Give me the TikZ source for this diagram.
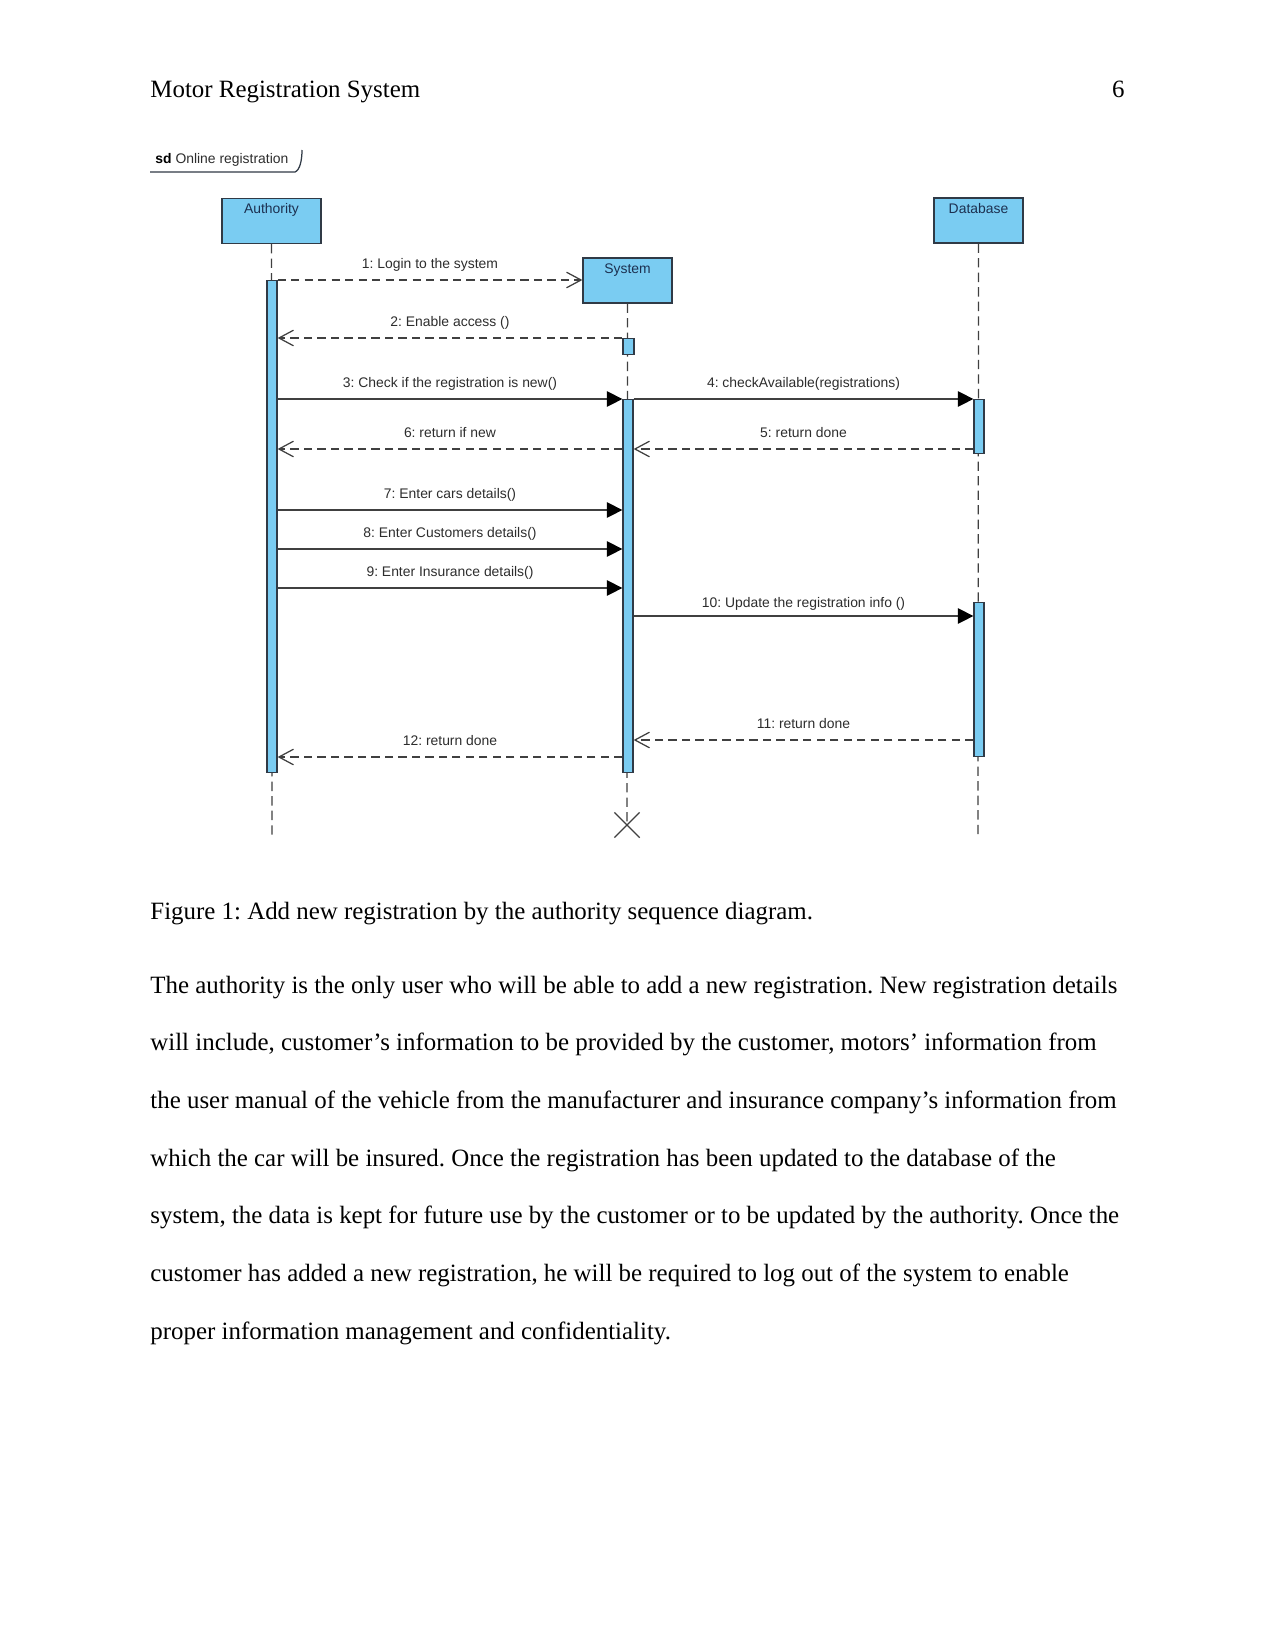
\documentclass[tikz,border=0pt]{standalone}
\usepackage{fontspec}
\setmainfont{Liberation Serif}
\newfontfamily\vpsans{Liberation Sans}
\usetikzlibrary{positioning,arrows.meta,shapes.misc}
\frenchspacing
\newlength\pxu
\setlength\pxu{0.48181pt}
\newcommand\vpfont{\vpsans\fontsize{6.7}{8}\selectfont}
\definecolor{vpblue}{RGB}{122,204,242}
\definecolor{vpline}{RGB}{48,58,70}
\definecolor{vpdash}{RGB}{64,64,64}
\definecolor{vptext}{RGB}{45,45,45}
\definecolor{vpnavy}{RGB}{28,48,80}
\tikzset{
  lifebox/.style={draw=vpline,fill=vpblue,line width=0.6pt,minimum height=45\pxu,inner sep=0},
  actbar/.style={draw=vpline,fill=vpblue,line width=0.6pt,minimum width=10\pxu,inner sep=0,anchor=north},
  lifeline/.style={draw=vpdash,line width=0.6pt,dash pattern=on 4.5pt off 2.5pt},
  callmsg/.style={draw=vpdash,line width=0.6pt,-{Triangle[length=7.5pt,width=7.5pt,fill=black,color=black]}},
  retmsg/.style={draw=vpdash,line width=0.6pt,dash pattern=on 4pt off 2.5pt,-{Straight Barb[length=7pt,width=7.5pt]}},
  msglabel/.style={font=\vpfont,text=vptext,anchor=base,inner sep=0,yshift=5.5pt},
  boxlabel/.style={font=\vpfont,text=vpnavy,anchor=north,inner sep=0},
  bodytext/.style={font=\fontsize{12}{14}\selectfont,inner sep=0}
}
\begin{document}
\begin{tikzpicture}[x=\pxu,y=-\pxu]
\path[use as bounding box,fill=white] (0,0) rectangle (1275,1651);
% page text
\node[bodytext,anchor=base west] (hdr) at (150,97) {Motor Registration System};
\node[bodytext,anchor=base east] (pgno) at (1125,97) {6};
% frame tag
\node[font=\vpfont,text=vptext,anchor=base west,inner sep=0] (sdtag) at (155,163) {\textcolor{black}{\textbf{sd}} Online registration};
\draw[vpline,line width=0.6pt] (150,172) -- (295,172) .. controls (300,170) and (302,160) .. (302,150);
% lifeline heads
\node[lifebox,minimum width=99\pxu] (abox) at (271.5,221) {};
\node[lifebox,minimum width=89\pxu] (sbox) at (627.5,280.5) {};
\node[lifebox,minimum width=89\pxu] (dbox) at (978.5,220.5) {};
\node[boxlabel,below=5.5\pxu of abox.north] (alab) {Authority};
\node[boxlabel,below=5.5\pxu of sbox.north] (slab) {System};
\node[boxlabel,below=5.5\pxu of dbox.north] (dlab) {Database};
\coordinate (aend) at (272,837);
\coordinate (dend) at (978,837);
\node[cross out,draw=vpdash,line width=0.6pt,minimum size=24\pxu,inner sep=0] (sx) at (627,825) {};
\draw[lifeline] (abox.south) -- (aend);
\draw[lifeline] (sbox.south) -- (sx.center);
\draw[lifeline] (dbox.south) -- (dend);
% activations
\node[actbar,minimum height=492\pxu] (aact) at (272,280) {};
\node[actbar,minimum width=11\pxu,minimum height=16\pxu] (ssmall) at (628.5,338) {};
\node[actbar,minimum height=373\pxu] (smain) at (628,399) {};
\node[actbar,minimum height=54\pxu] (dact1) at (979,399) {};
\node[actbar,minimum height=154\pxu] (dact2) at (979,602) {};
\foreach \n/\yy in {ret/449,cars/510,cust/549,ins/588,upd/616,done/740,back/757}
  \coordinate (row\n) at (0,\yy);
% messages
\draw[retmsg] (aact.north east) -- (sbox.west |- aact.north east) node[msglabel,midway] {1: Login to the system};
\draw[retmsg] (ssmall.north west) -- (aact.east |- ssmall.north) node[msglabel,midway] {2: Enable access ()};
\draw[callmsg] (aact.east |- smain.north) -- (smain.north west) node[msglabel,midway] {3: Check if the registration is new()};
\draw[callmsg] (smain.north east) -- (dact1.north west) node[msglabel,midway] {4: checkAvailable(registrations)};
\draw[retmsg] (dact1.west |- rowret) -- (smain.east |- rowret) node[msglabel,midway] {5: return done};
\draw[retmsg] (smain.west |- rowret) -- (aact.east |- rowret) node[msglabel,midway] {6: return if new};
\draw[callmsg] (aact.east |- rowcars) -- (smain.west |- rowcars) node[msglabel,midway] {7: Enter cars details()};
\draw[callmsg] (aact.east |- rowcust) -- (smain.west |- rowcust) node[msglabel,midway] {8: Enter Customers details()};
\draw[callmsg] (aact.east |- rowins) -- (smain.west |- rowins) node[msglabel,midway] {9: Enter Insurance details()};
\draw[callmsg] (smain.east |- rowupd) -- (dact2.west |- rowupd) node[msglabel,midway,yshift=-1.5pt] {10: Update the registration info ()};
\draw[retmsg] (dact2.west |- rowdone) -- (smain.east |- rowdone) node[msglabel,midway] {11: return done};
\draw[retmsg] (smain.west |- rowback) -- (aact.east |- rowback) node[msglabel,midway] {12: return done};
% caption and paragraph
\node[bodytext,anchor=base west] (cap) at (150,919) {Figure 1: Add new registration by the authority sequence diagram.};
\foreach \txt [count=\i] in {
  {The authority is the only user who will be able to add a new registration. New registration details},
  {will include, customer’s information to be provided by the customer, motors’ information from},
  {the user manual of the vehicle from the manufacturer and insurance company’s information from},
  {which the car will be insured. Once the registration has been updated to the database of the},
  {system, the data is kept for future use by the customer or to be updated by the authority. Once the},
  {customer has added a new registration, he will be required to log out of the system to enable},
  {proper information management and confidentiality.}}
  \node[bodytext,anchor=base west] (line\i) at (150,{993+(\i-1)*57.7}) {\txt};
\end{tikzpicture}
\end{document}
